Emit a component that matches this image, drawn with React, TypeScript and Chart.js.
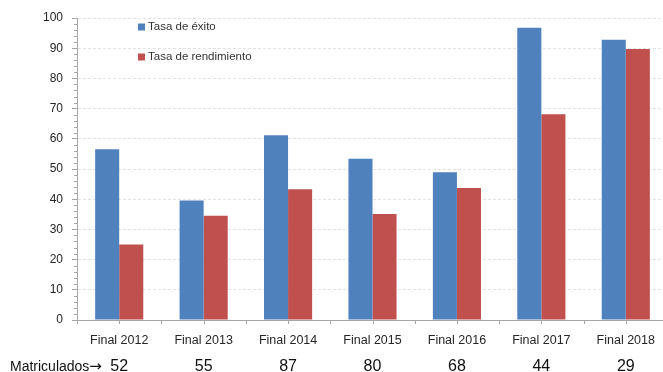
import React, { useEffect, useRef } from "react";
import { Chart, registerables } from "chart.js";

Chart.register(...registerables);

const categories = ["Final 2012", "Final 2013", "Final 2014", "Final 2015", "Final 2016", "Final 2017", "Final 2018"];
const tasaExito = [56.5, 39.6, 61.2, 53.4, 48.9, 96.8, 92.8];
const tasaRendimiento = [25.0, 34.5, 43.3, 35.1, 43.7, 68.1, 89.7];
const matriculados = [52, 55, 87, 80, 68, 44, 29];
const matriculadosLabel = "Matriculados";
const arrowLabel = "\u2192";

const BLUE = "#4F81BD";
const RED = "#C0504D";
const FONT = "'Liberation Sans', Arial, sans-serif";

const extrasPlugin = {
  id: "extras",
  afterDraw(chart: any) {
    const ctx = chart.ctx;
    const x = chart.scales.x;
    const y = chart.scales.y;
    ctx.save();
    ctx.strokeStyle = "#a6a6a6";
    ctx.lineWidth = 1;
    // minor ticks on y axis
    for (let v = 0; v <= 100; v += 2) {
      if (v % 10 === 0) continue;
      const py = Math.round(y.getPixelForValue(v)) + 0.5;
      ctx.beginPath();
      ctx.moveTo(y.right - 3, py);
      ctx.lineTo(y.right, py);
      ctx.stroke();
    }
    // ticks on x axis (boundaries and centres)
    const n = categories.length;
    for (let i = 0; i <= 2 * n; i++) {
      const px = Math.round(x.getPixelForValue(i / 2 - 0.5)) + 0.5;
      ctx.beginPath();
      ctx.moveTo(px, x.top);
      ctx.lineTo(px, x.top + 4);
      ctx.stroke();
    }
    // legend
    const items = chart.data.datasets.map((d: any) => ({ label: d.label, color: d.backgroundColor }));
    ctx.font = "11.5px " + FONT;
    ctx.textBaseline = "middle";
    ctx.textAlign = "left";
    items.forEach((it: any, i: number) => {
      const cy = 27 + i * 30;
      ctx.fillStyle = it.color;
      ctx.fillRect(138, cy - 3.5, 7, 7);
      ctx.fillStyle = "#333333";
      ctx.fillText(it.label, 148, cy);
    });
    // matriculados row
    ctx.fillStyle = "#111111";
    ctx.textAlign = "left";
    ctx.font = "14px " + FONT;
    ctx.fillText(matriculadosLabel, 10, 367);
    const w = ctx.measureText(matriculadosLabel).width;
    ctx.font = "15px 'DejaVu Sans', sans-serif";
    ctx.fillText(arrowLabel, 10 + w, 367);
    ctx.font = "16px " + FONT;
    ctx.textAlign = "center";
    matriculados.forEach((m, i) => {
      ctx.fillText(String(m), x.getPixelForValue(i), 367);
    });
    ctx.restore();
  },
};

export default function App() {
  const ref = useRef<HTMLCanvasElement>(null);
  useEffect(() => {
    if (!ref.current) return;
    const chart = new Chart(ref.current, {
      type: "bar",
      data: {
        labels: categories,
        datasets: [
          { label: "Tasa de éxito", data: tasaExito, backgroundColor: BLUE, categoryPercentage: 0.57, barPercentage: 1 },
          { label: "Tasa de rendimiento", data: tasaRendimiento, backgroundColor: RED, categoryPercentage: 0.57, barPercentage: 1 },
        ],
      },
      options: {
        responsive: false,
        animation: false,
        layout: { padding: { top: 18, left: 0, right: 0, bottom: 0 } },
        plugins: { legend: { display: false }, tooltip: { enabled: false } },
        scales: {
          x: {
            grid: { display: false },
            border: { display: true, color: "#a6a6a6" },
            ticks: { color: "#262626", font: { family: FONT, size: 12.5 }, padding: 5, maxRotation: 0, autoSkip: false },
            afterFit: (s: any) => { s.height = 52; },
          },
          y: {
            min: 0,
            max: 100,
            ticks: { stepSize: 10, color: "#262626", font: { family: FONT, size: 12 }, padding: 9 },
            grid: { color: "#e3e3e3", tickColor: "#a6a6a6", tickLength: 5, tickBorderDash: [] },
            border: { display: true, color: "#a6a6a6", dash: [3, 2] },
            afterFit: (s: any) => { s.width = 77; },
          },
        },
      },
      plugins: [extrasPlugin],
    });
    return () => chart.destroy();
  }, []);
  return (
    <div style={{ position: "fixed", left: 0, top: 0, width: 663, height: 372, overflow: "hidden", background: "#fff" }}>
      <canvas ref={ref} width={668} height={372} style={{ display: "block", width: 668, height: 372 }} />
    </div>
  );
}
